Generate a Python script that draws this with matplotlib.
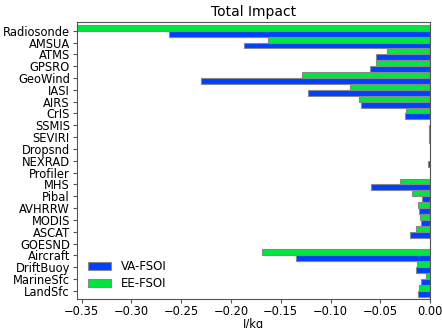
import matplotlib
matplotlib.use("Agg")
import matplotlib.pyplot as plt
import numpy as np

categories = ["Radiosonde", "AMSUA", "ATMS", "GPSRO", "GeoWind", "IASI", "AIRS",
              "CrIS", "SSMIS", "SEVIRI", "Dropsnd", "NEXRAD", "Profiler", "MHS",
              "Pibal", "AVHRRW", "MODIS", "ASCAT", "GOESND", "Aircraft",
              "DriftBuoy", "MarineSfc", "LandSfc"]
va_fsoi = [-0.2623, -0.1866, -0.0543, -0.0606, -0.2301, -0.1223, -0.0693,
           -0.0248, -0.0013, -0.0015, 0.0, -0.0020, 0.0, -0.0590,
           -0.0080, -0.0107, -0.0090, -0.0201, 0.0, -0.1347,
           -0.0137, -0.0090, -0.0120]
ee_fsoi = [-0.3547, -0.1625, -0.0429, -0.0543, -0.1283, -0.0801, -0.0710,
           -0.0238, -0.0003, -0.0008, 0.0, 0.0, 0.0, -0.0305,
           -0.0181, -0.0117, -0.0097, -0.0137, -0.0005, -0.1685,
           -0.0127, -0.0037, -0.0110]

fig = plt.figure(figsize=(4.42, 3.28), dpi=100)
ax = fig.add_axes([0.174, 0.088, 0.799, 0.845])

y = np.arange(len(categories))
h = 0.5
ax.barh(y + h / 2, va_fsoi, height=h, color="#0040ff", edgecolor="#888888",
        linewidth=0.8, label="VA-FSOI")
ax.barh(y - h / 2, ee_fsoi, height=h, color="#00e640", edgecolor="#888888",
        linewidth=0.8, label="EE-FSOI")

ax.set_yticks(y)
ax.set_yticklabels(categories, fontsize=8.3)
ax.set_ylim(len(categories) - 0.3, -0.74)
ax.set_xlim(min(ee_fsoi), 0)
ax.set_xticks([-0.35, -0.30, -0.25, -0.20, -0.15, -0.10, -0.05, 0.0])
ax.set_xticklabels(["\u22120.35", "\u22120.30", "\u22120.25", "\u22120.20",
                    "\u22120.15", "\u22120.10", "\u22120.05", "0.00"], fontsize=8.3)
ax.set_xlabel("J/kg", fontsize=8.3, labelpad=0)
ax.set_title("Total Impact", fontsize=10, pad=4)
for s in ax.spines.values():
    s.set_color("#555555")
ax.tick_params(axis="x", colors="#555555", labelcolor="black", length=3, pad=1.5)
ax.tick_params(axis="y", colors="#555555", labelcolor="black", length=3, pad=2)
ax.legend(loc="lower left", frameon=False, fontsize=8.5, labelspacing=0.35,
          bbox_to_anchor=(0.0, -0.005))

fig.savefig("out.png", dpi=100)
